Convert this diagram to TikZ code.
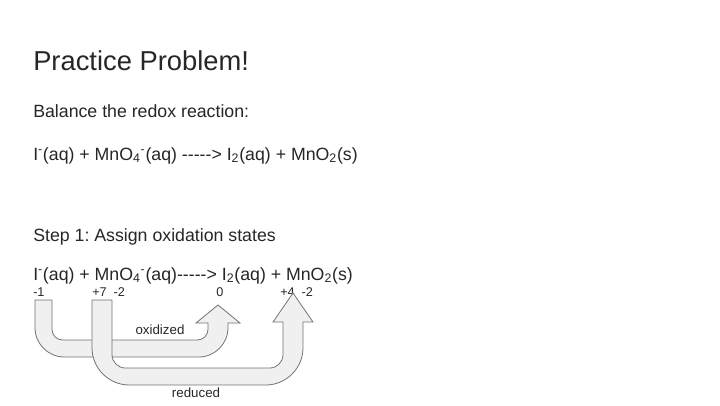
\documentclass[tikz,border=0pt]{standalone}
\usepackage{fontspec}
\setmainfont{Liberation Sans}
\frenchspacing
\newcommand{\dsh}{-{}-{}-{}-{}-{}>}
\begin{document}
\begin{tikzpicture}[x=0.75pt,y=-0.75pt,
  txt/.style={anchor=base west,inner sep=0,font=\fontsize{13.3}{15}\selectfont,text=black!85},
  num/.style={anchor=base west,inner sep=0,font=\fontsize{9.5}{11}\selectfont,text=black!85},
  lab/.style={inner sep=0,font=\fontsize{10}{12}\selectfont,text=black!85},
  blk/.style={fill=black!6,draw=black!55,line width=0.6pt}]
\useasboundingbox (0,0) rectangle (720,405);
\node[anchor=base west,inner sep=0,font=\fontsize{20.5}{24}\selectfont,text=black!85] (title) at (33,70) {Practice Problem!};
\node[txt] (bal) at (33,117) {Balance the redox reaction:};
\node[txt] (eq1) at (33,160) {I\textsuperscript{-}(aq) + MnO\textsubscript{4}\textsuperscript{-}(aq) \dsh{} I\textsubscript{2}(aq) + MnO\textsubscript{2}(s)};
\node[txt] (step) at (33,241) {Step 1: Assign oxidation states};
\node[txt] (eq2) at (33,280) {I\textsuperscript{-}(aq) + MnO\textsubscript{4}\textsuperscript{-}(aq)\dsh{} I\textsubscript{2}(aq) + MnO\textsubscript{2}(s)};
\node[num] (n1) at (33,296) {-1};
\node[num] (n2) at (92,296) {+7\ \ -2};
\node[num] (n3) at (216,296) {0};
\node[num] (n4) at (280,296) {+4\ \ -2};
% oxidized arrow
\draw[blk] (35,300) [rounded corners=22] -- (35,357) -- (228,357) [sharp corners] -- (228,323) -- (240,323) -- (218,305) -- (196,323) -- (208,323) [rounded corners=8] -- (208,340) -- (52,340) [sharp corners] -- (52,300) -- cycle;
\node[lab] (ox) at (160,330) {oxidized};
% reduced arrow
\draw[blk] (92,300) [rounded corners=28] -- (92,385) -- (303,385) [sharp corners] -- (303,322) -- (313,322) -- (293,293) -- (273,322) -- (283,322) [rounded corners=10] -- (283,368) -- (112,368) [sharp corners] -- (112,300) -- cycle;
\node[lab] (red) at (196,393) {reduced};
\end{tikzpicture}
\end{document}
